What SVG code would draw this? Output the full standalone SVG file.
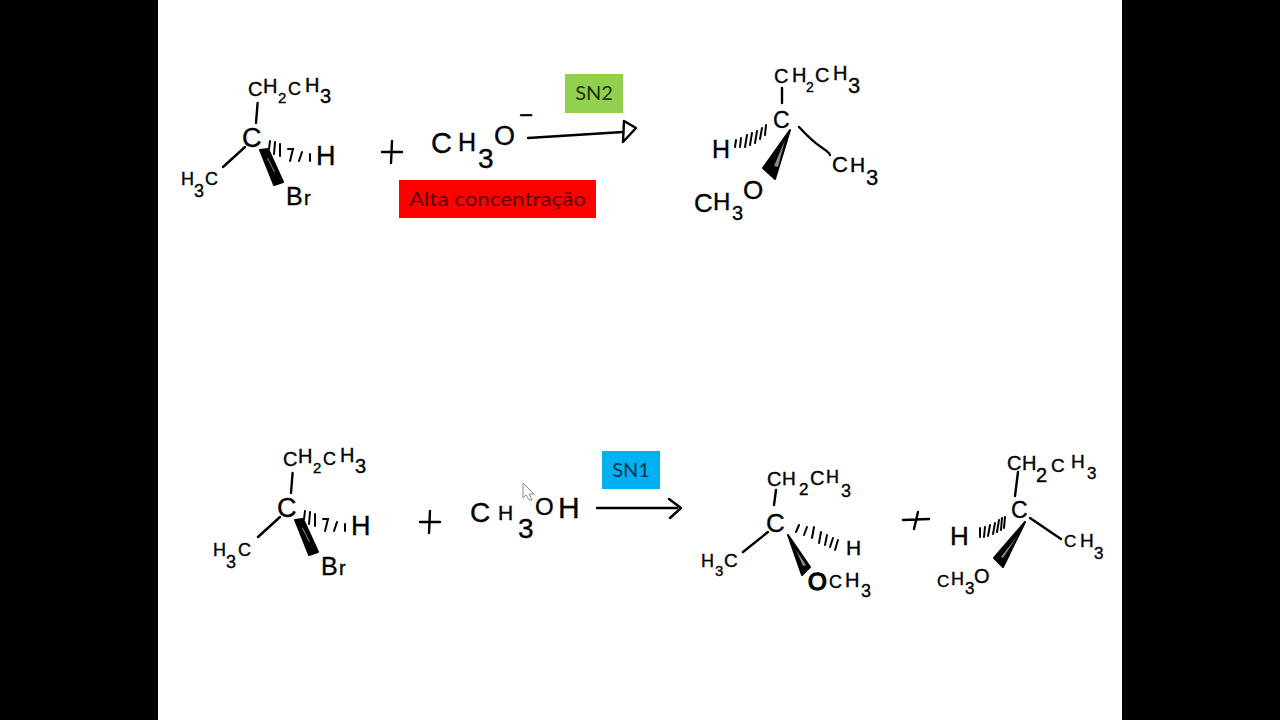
<svg xmlns="http://www.w3.org/2000/svg" width="1280" height="720" viewBox="0 0 1280 720">
<style>
.hw{font-family:"Liberation Sans",Arial,sans-serif;fill:#000;stroke:#000;stroke-width:.35;font-size:20px}
.bd{fill:none;stroke:#000;stroke-width:2.4;stroke-linecap:round;stroke-linejoin:round}
.hs{fill:none;stroke:#000;stroke-width:2;stroke-linecap:round}
.wg{fill:#000;stroke:#000;stroke-width:2;stroke-linejoin:round}
.sl{fill:#fff;opacity:.55}
.lb{font-family:Lato,"Liberation Sans",sans-serif;font-size:20px;text-anchor:middle}
</style>
<rect x="0" y="0" width="1280" height="720" fill="#000"/>
<rect x="158" y="0" width="964" height="720" fill="#fff"/>

<g id="reagent-sn2-bromide">
<text class="hw"><tspan x="248" y="96" style="font-size:20px">C</tspan><tspan x="263" y="93" style="font-size:20px">H</tspan><tspan x="278" y="103" style="font-size:15px">2</tspan><tspan x="288" y="95" style="font-size:18px">C</tspan><tspan x="305" y="92" style="font-size:20px">H</tspan><tspan x="320" y="103" style="font-size:20px">3</tspan></text>
<text class="hw" x="242" y="147" style="font-size:27px">C</text>
<text class="hw"><tspan x="181" y="185" style="font-size:18px">H</tspan><tspan x="194" y="197" style="font-size:18px">3</tspan><tspan x="205" y="185" style="font-size:18px">C</tspan></text>
<text class="hw" x="316" y="165" style="font-size:27px">H</text>
<text class="hw"><tspan x="286" y="205" style="font-size:25px">B</tspan><tspan x="304" y="205" style="font-size:20px">r</tspan></text>
<path class="bd" d="M257.600 103L256 123M245 147L223 167"/>
<path class="hs" d="M270 141L269 149M275 142L274 154M280 144L280 156M288 149H293L290 161M302 152L299 161M310 154V161"/>
<path class="wg" d="M260 150L268 149L283 182L274 185Z"/>
<path class="sl" d="M267 158L268 158L275 172L274 172Z"/>
</g>

<g id="plus-top">
<path class="bd" d="M382 152H402M392 141L391 163"/>
</g>

<g id="methoxide">
<text class="hw"><tspan x="431" y="153" style="font-size:29px">C</tspan><tspan x="458" y="151" style="font-size:25px">H</tspan><tspan x="478" y="168" style="font-size:28px">3</tspan><tspan x="494" y="145" style="font-size:27px">O</tspan><tspan x="519" y="123" style="font-size:24px">−</tspan></text>
</g>

<g id="connectors">
<path class="bd" d="M528 138L623 132"/>
<path class="bd" d="M624 121L636 128L623 142Z"/>
<path class="bd" d="M597 508L677 508"/>
<path class="bd" d="M669 499L681 508L670 518"/>
</g>

<g id="label-sn2">
<rect x="565" y="74" width="58" height="39" fill="#92d050"/>
<text class="lb" x="594" y="100" fill="#1f2f10">SN2</text>
</g>
<g id="label-alta">
<rect x="399" y="180" width="197" height="38" fill="#ff0000"/>
<text class="lb" x="497.500" y="206" fill="#5a0000" textLength="177" lengthAdjust="spacingAndGlyphs">Alta concentração</text>
</g>

<g id="product-sn2">
<text class="hw"><tspan x="774" y="83" style="font-size:20px">C</tspan><tspan x="792" y="82" style="font-size:20px">H</tspan><tspan x="806" y="92" style="font-size:14px">2</tspan><tspan x="815" y="82" style="font-size:20px">C</tspan><tspan x="833" y="80" style="font-size:20px">H</tspan><tspan x="848" y="93" style="font-size:22px">3</tspan></text>
<text class="hw" x="773" y="128" style="font-size:23px">C</text>
<text class="hw" x="712" y="158" style="font-size:25px">H</text>
<text class="hw"><tspan x="832" y="172" style="font-size:22px">C</tspan><tspan x="850" y="172" style="font-size:21px">H</tspan><tspan x="866" y="185" style="font-size:22px">3</tspan></text>
<text class="hw"><tspan x="694" y="212" style="font-size:26px">C</tspan><tspan x="713" y="210" style="font-size:24px">H</tspan><tspan x="732" y="220" style="font-size:20px">3</tspan><tspan x="743" y="199" style="font-size:26px">O</tspan></text>
<path class="bd" d="M782 88V103M799 127Q812 141 821 147T830 155"/>
<path class="hs" d="M736 140L735 147M741 138L740 147M747 135L745 147M752 133L750 145M757 131L755 143M762 128L760 139M766 125L765 135"/>
<path class="wg" d="M790 130L763 168L775 179Z"/>
<path class="sl" d="M785 140L774 166L778 167Z"/>
</g>

<g id="reagent-sn1-bromide" transform="translate(35 370)">
<text class="hw"><tspan x="248" y="96" style="font-size:20px">C</tspan><tspan x="263" y="93" style="font-size:20px">H</tspan><tspan x="278" y="103" style="font-size:15px">2</tspan><tspan x="288" y="95" style="font-size:18px">C</tspan><tspan x="305" y="92" style="font-size:20px">H</tspan><tspan x="320" y="103" style="font-size:20px">3</tspan></text>
<text class="hw" x="242" y="147" style="font-size:27px">C</text>
<text class="hw"><tspan x="178" y="186" style="font-size:18px">H</tspan><tspan x="191" y="198" style="font-size:18px">3</tspan><tspan x="203" y="186" style="font-size:18px">C</tspan></text>
<text class="hw" x="316" y="165" style="font-size:27px">H</text>
<text class="hw"><tspan x="286" y="205" style="font-size:25px">B</tspan><tspan x="304" y="205" style="font-size:20px">r</tspan></text>
<path class="bd" d="M257.600 103L256 123M245 147L223 167"/>
<path class="hs" d="M270 141L269 149M275 142L274 154M280 144L280 156M288 149H293L290 161M302 152L299 161M310 154V161"/>
<path class="wg" d="M260 150L268 149L283 182L274 185Z"/>
<path class="sl" d="M267 158L268 158L275 172L274 172Z"/>
</g>

<g id="plus-bottom-left">
<path class="bd" d="M420 522H440M430 511L429 533"/>
</g>

<g id="methanol">
<text class="hw"><tspan x="470" y="522" style="font-size:28px">C</tspan><tspan x="498" y="520" style="font-size:21px">H</tspan><tspan x="518" y="538" style="font-size:28px">3</tspan><tspan x="535" y="515" style="font-size:24px">O</tspan><tspan x="558" y="518" style="font-size:30px">H</tspan></text>
</g>

<g id="cursor">
<path d="M523 483L534 494L529 494L532 500L529 500L526 495L523 498Z" fill="#fff" stroke="#8a8a8a" stroke-width="1"/>
</g>

<g id="label-sn1">
<rect x="602" y="451" width="58" height="38" fill="#00b0f0"/>
<text class="lb" x="631" y="477" fill="#0a3550">SN1</text>
</g>

<g id="product-sn1-a">
<text class="hw"><tspan x="767" y="486" style="font-size:20px">C</tspan><tspan x="782" y="485" style="font-size:19px">H</tspan><tspan x="799" y="495" style="font-size:17px">2</tspan><tspan x="810" y="485" style="font-size:20px">C</tspan><tspan x="826" y="483" style="font-size:18px">H</tspan><tspan x="841" y="497" style="font-size:18px">3</tspan></text>
<text class="hw" x="766" y="532" style="font-size:26px">C</text>
<text class="hw"><tspan x="701" y="567" style="font-size:18px">H</tspan><tspan x="715" y="576" style="font-size:15px">3</tspan><tspan x="724" y="567" style="font-size:19px">C</tspan></text>
<text class="hw" x="846" y="555" style="font-size:21px">H</text>
<text class="hw"><tspan x="808" y="590" style="font-size:24px;stroke-width:1.500">O</tspan><tspan x="829" y="588" style="font-size:18px">C</tspan><tspan x="845" y="587" style="font-size:20px">H</tspan><tspan x="861" y="597" style="font-size:18px">3</tspan></text>
<path class="bd" d="M776 490L774 505M768 532L743 552"/>
<path class="hs" d="M799 525L796 532M807 527L804 535M814 527L812 538M821 532L819 543M827 535L825 545M833 538L830 547M838 540L835 550"/>
<path class="wg" d="M788 535L810 567L802 575Z"/>
<path class="sl" d="M796 550L806 565L803 566Z"/>
</g>

<g id="plus-bottom-right">
<path class="bd" d="M903 520L929 519M918 512L914 529"/>
</g>

<g id="product-sn1-b">
<text class="hw"><tspan x="1007" y="470" style="font-size:20px">C</tspan><tspan x="1022" y="470" style="font-size:20px">H</tspan><tspan x="1036" y="482" style="font-size:20px">2</tspan><tspan x="1051" y="472" style="font-size:19px">C</tspan><tspan x="1071" y="468" style="font-size:19px">H</tspan><tspan x="1087" y="479" style="font-size:17px">3</tspan></text>
<text class="hw" x="1011" y="518" style="font-size:23px">C</text>
<text class="hw" x="950" y="545" style="font-size:26px">H</text>
<text class="hw"><tspan x="1064" y="547" style="font-size:17px">C</tspan><tspan x="1080" y="547" style="font-size:19px">H</tspan><tspan x="1094" y="559" style="font-size:17px">3</tspan></text>
<text class="hw"><tspan x="937" y="587" style="font-size:17px">C</tspan><tspan x="951" y="585" style="font-size:18px">H</tspan><tspan x="965" y="594" style="font-size:17px">3</tspan><tspan x="974" y="583" style="font-size:20px">O</tspan></text>
<path class="bd" d="M1018 472L1015 496M1030 518L1061 539"/>
<path class="hs" d="M980 528L980 537M985 527L984 537M990 525L988 536M995 523L993 534M999 520L997 532M1002 518L1001 530M1005 517L1004 528"/>
<path class="wg" d="M1025 522L994 558L1003 567Z"/>
<path class="sl" d="M1018 535L1001 557L1003 558Z"/>
</g>
</svg>
